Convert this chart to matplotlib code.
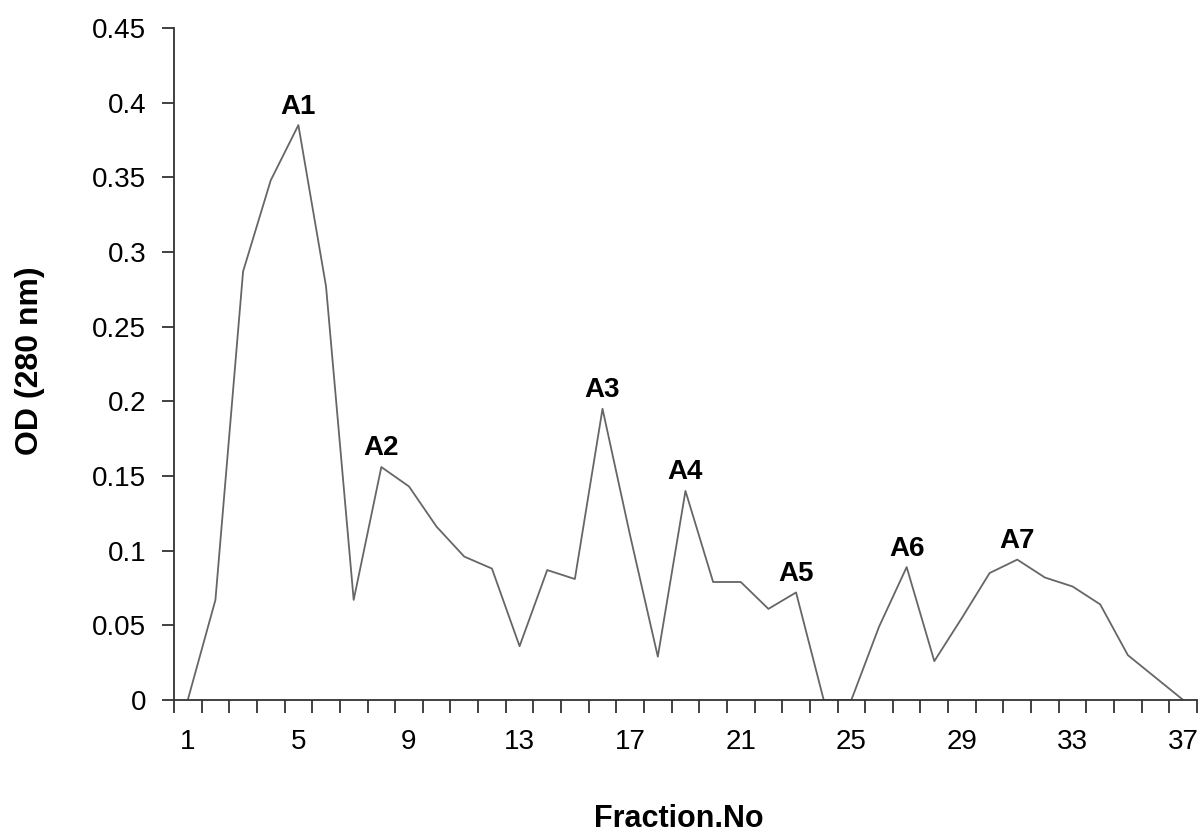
import matplotlib.pyplot as plt

plt.rcParams['font.family'] = ['Liberation Sans', 'DejaVu Sans']

# Fraction numbers and OD readings at 280 nm
fractions = list(range(1, 38))
od_280 = [0.0, 0.067, 0.287, 0.348, 0.385, 0.277, 0.067, 0.156, 0.143, 0.116,
          0.096, 0.088, 0.036, 0.087, 0.081, 0.195, 0.110, 0.029, 0.140, 0.079,
          0.079, 0.061, 0.072, 0.0, 0.0, 0.049, 0.089, 0.026, 0.055, 0.085,
          0.094, 0.082, 0.076, 0.064, 0.030, 0.015, 0.0]

# Peak labels and the fractions they sit on
peak_names = ['A1', 'A2', 'A3', 'A4', 'A5', 'A6', 'A7']
peak_fractions = [5, 8, 16, 19, 23, 27, 31]

fig = plt.figure(figsize=(12.03, 8.32), dpi=100)
ax = fig.add_axes([0.1446, 0.1587, 0.8504, 0.8076])

ax.plot(fractions, od_280, color='#666666', linewidth=1.3, zorder=1)

for name, f in zip(peak_names, peak_fractions):
    ax.annotate(name, (f, od_280[f - 1]), xytext=(0, 4), textcoords='offset points',
                ha='center', va='bottom', fontsize=20, fontweight='bold')

ax.set_xlim(0.5, 37.5)
ax.set_ylim(0, 0.45)

# category-style axis: tick marks between fractions, labels every 4th fraction
ax.set_xticks([f + 0.5 for f in range(0, 38)])
ax.set_xticklabels([])
ax.set_xticks(fractions[::4], minor=True)
ax.set_xticklabels([str(f) for f in fractions[::4]], minor=True)
ax.tick_params(axis='x', which='major', direction='out', length=9, width=1.3, color='#333333')
ax.tick_params(axis='x', which='minor', length=0, labelsize=20, pad=21)

yt = [i * 0.05 for i in range(10)]
ax.set_yticks(yt)
ax.set_yticklabels(['0', '0.05', '0.1', '0.15', '0.2', '0.25', '0.3', '0.35', '0.4', '0.45'])
ax.tick_params(axis='y', direction='out', length=9, width=1.3, color='#333333', labelsize=20, pad=11)

for s in ['top', 'right']:
    ax.spines[s].set_visible(False)
for s in ['left', 'bottom']:
    ax.spines[s].set_color('#333333')
    ax.spines[s].set_linewidth(1.3)
    ax.spines[s].set_zorder(3)

fig.text(0.5645, 0.006, 'Fraction.No', ha='center', va='baseline', fontsize=22, fontweight='bold')
fig.text(0.025, 0.566, 'OD (280 nm)', ha='center', va='center', rotation=90, fontsize=23, fontweight='bold')

fig.savefig('out.png', dpi=100)
